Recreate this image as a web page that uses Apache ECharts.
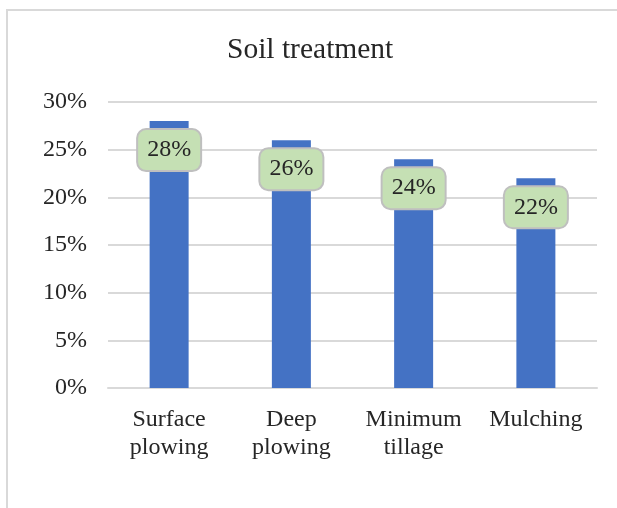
<!DOCTYPE html>
<html>
<head>
<meta charset="utf-8">
<script src="https://cdn.jsdelivr.net/npm/echarts@6/dist/echarts.min.js"></script>
<style>
  html, body { margin: 0; padding: 0; background: #fff; }
  #main { width: 617px; height: 508px; }
</style>
</head>
<body>
<div id="main"></div>
<script>
// 数据
const categories = ['Surface\nplowing', 'Deep\nplowing', 'Minimum\ntillage', 'Mulching'];
const values = [0.28, 0.26, 0.24, 0.22];
const yTicks = [0, 0.05, 0.10, 0.15, 0.20, 0.25, 0.30];

const chart = echarts.init(document.getElementById('main'));

const option = {
  backgroundColor: '#fff',
  animation: false,
  textStyle: {
    fontFamily: 'Liberation Serif'
  },
  title: {
    text: 'Soil treatment',
    left: 222,
    top: 30,
    textStyle: {
      fontFamily: 'Liberation Serif',
      fontSize: 29.5,
      fontWeight: 'normal',
      color: '#262626'
    }
  },
  // 外框
  graphic: [{
    type: 'rect',
    shape: { x: 7, y: 10, width: 700, height: 600 },
    style: { fill: 'none', stroke: '#d9d9d9', lineWidth: 2 },
    silent: true
  }],
  grid: {
    left: 108,
    right: 20,
    top: 102,
    bottom: 120
  },
  xAxis: {
    type: 'category',
    data: categories,
    axisLine: { lineStyle: { color: '#d9d9d9', width: 2 } },
    axisTick: { show: false },
    axisLabel: {
      fontFamily: 'Liberation Serif',
      fontSize: 24,
      color: '#262626',
      lineHeight: 28,
      margin: 18,
      interval: 0
    }
  },
  yAxis: {
    type: 'value',
    min: yTicks[0],
    max: yTicks[yTicks.length - 1],
    interval: 0.05,
    axisLine: { show: false },
    axisTick: { show: false },
    splitLine: { lineStyle: { color: '#d9d9d9', width: 2 } },
    axisLabel: {
      fontFamily: 'Liberation Serif',
      fontSize: 24,
      color: '#262626',
      margin: 21,
      formatter: v => Math.round(v * 100) + '%'
    }
  },
  series: [{
    type: 'bar',
    data: values,
    barWidth: 39,
    itemStyle: { color: '#4472c4' },
    label: {
      show: true,
      position: 'insideTop',
      distance: 9,
      formatter: p => Math.round(p.value * 100) + '%',
      fontFamily: 'Liberation Serif',
      fontSize: 24,
      color: '#262626',
      backgroundColor: '#c5e0b4',
      borderColor: '#bfbfbf',
      borderWidth: 2,
      borderRadius: 8,
      padding: [7, 9],
      lineHeight: 26
    }
  }]
};

chart.setOption(option);
</script>
</body>
</html>
